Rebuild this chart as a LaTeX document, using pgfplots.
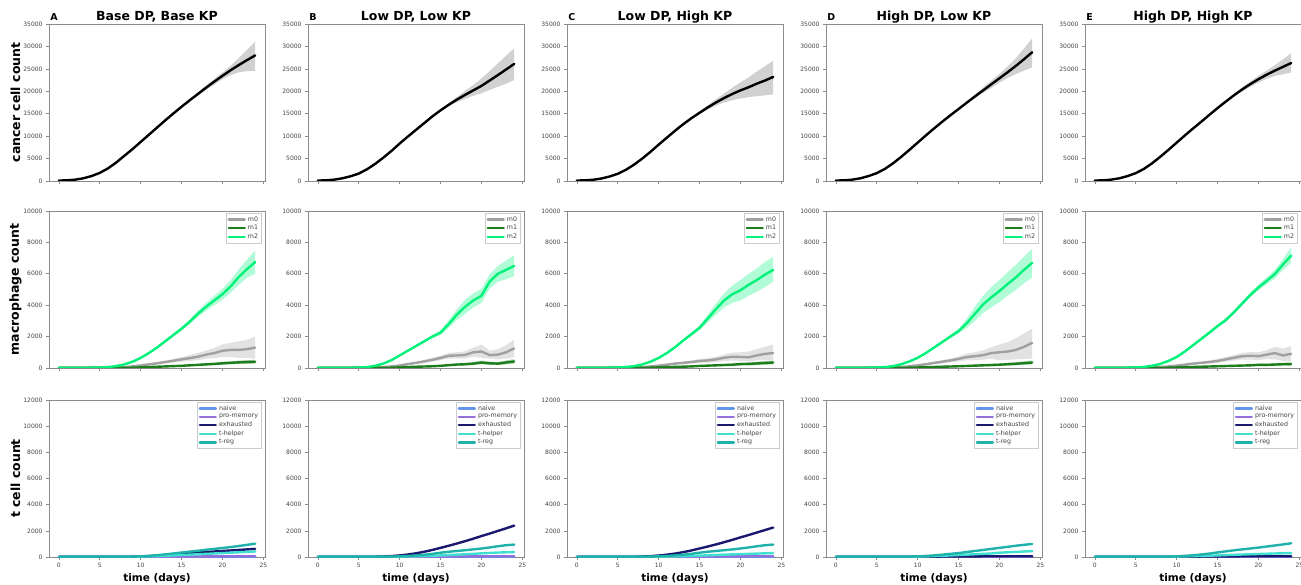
\documentclass[border=0pt]{standalone}
\usepackage{fontspec}
\setmainfont{DejaVu Sans}
\usepackage{pgfplots}
\usepackage{pgfplotstable}
\pgfplotsset{compat=1.18}
\usepgfplotslibrary{fillbetween}

\definecolor{spine}{HTML}{8C8C8C}
\definecolor{ticktext}{HTML}{444444}
\definecolor{m0c}{HTML}{A0A0A0}
\definecolor{m1c}{HTML}{1C7D1C}
\definecolor{m2c}{HTML}{00F27A}
\definecolor{naivec}{HTML}{6495ED}
\definecolor{promc}{HTML}{9370DB}
\definecolor{exhc}{HTML}{191970}
\definecolor{thc}{HTML}{40E0D0}
\definecolor{tregc}{HTML}{20B2AA}

% ---------------- top row: cancer cells ----------------
\pgfplotstableread{
t mean lo hi
0 100 50 150
1 150 100 200
2 300 220 380
3 600 500 700
4 1100 980 1220
5 1800 1650 1950
6 2800 2630 2970
7 4100 3920 4280
8 5600 5410 5790
9 7100 6900 7300
10 8700 8490 8910
11 10300 10080 10520
12 11900 11670 12130
13 13500 13260 13740
14 15050 14800 15300
15 16550 16300 16800
16 18000 17750 18250
17 19400 19050 19750
18 20800 20300 21300
19 22150 21550 22750
20 23450 22700 24200
21 24700 23600 25700
22 25850 24250 27400
23 26950 24500 29200
24 28000 24550 31100
}\topA
\pgfplotstableread{
t mean lo hi
0 100 50 150
1 150 100 200
2 300 220 380
3 600 500 700
4 1050 930 1170
5 1650 1500 1800
6 2600 2430 2770
7 3800 3620 3980
8 5200 5010 5390
9 6700 6500 6900
10 8350 8140 8560
11 9900 9680 10120
12 11400 11170 11630
13 12900 12660 13140
14 14400 14150 14650
15 15750 15480 16020
16 17000 16700 17300
17 18150 17550 18750
18 19200 18300 20100
19 20200 19000 21400
20 21200 19550 22850
21 22400 20300 24500
22 23600 21000 26200
23 24850 21700 27900
24 26100 22500 29600
}\topB
\pgfplotstableread{
t mean lo hi
0 100 50 150
1 150 100 200
2 280 200 360
3 550 450 650
4 1000 880 1120
5 1600 1450 1750
6 2500 2330 2670
7 3650 3470 3830
8 5000 4810 5190
9 6500 6300 6700
10 8100 7890 8310
11 9650 9430 9870
12 11200 10970 11430
13 12650 12410 12890
14 14000 13750 14250
15 15200 14900 15500
16 16400 15900 16900
17 17500 16800 18200
18 18500 17500 19500
19 19400 18000 20800
20 20200 18400 22000
21 20900 18700 23100
22 21700 18900 24400
23 22400 19100 25600
24 23200 19300 26800
}\topC
\pgfplotstableread{
t mean lo hi
0 100 50 150
1 150 100 200
2 300 220 380
3 600 500 700
4 1100 980 1220
5 1750 1600 1900
6 2700 2530 2870
7 3950 3770 4130
8 5400 5210 5590
9 6950 6750 7150
10 8550 8340 8760
11 10150 9930 10370
12 11700 11470 11930
13 13200 12960 13440
14 14650 14400 14900
15 16050 15780 16320
16 17450 17150 17750
17 18850 18450 19250
18 20200 19600 20800
19 21550 20750 22350
20 22900 21900 23900
21 24250 22950 25550
22 25650 23850 27350
23 27150 24600 29550
24 28700 25300 31800
}\topD
\pgfplotstableread{
t mean lo hi
0 100 50 150
1 150 100 200
2 300 220 380
3 600 500 700
4 1100 980 1220
5 1750 1600 1900
6 2700 2530 2870
7 3950 3770 4130
8 5400 5210 5590
9 6950 6750 7150
10 8550 8340 8760
11 10150 9930 10370
12 11700 11470 11930
13 13200 12960 13440
14 14750 14500 15000
15 16250 15980 16520
16 17700 17420 17980
17 19100 18800 19400
18 20400 19950 20850
19 21600 21000 22200
20 22700 21950 23450
21 23700 22800 24600
22 24600 23400 25800
23 25450 23800 27100
24 26300 24200 28500
}\topE

% ---------------- middle row: macrophages (a=m0, b=m1, c=m2) ----------------
\pgfplotstableread{
t a alo ahi b blo bhi c clo chi
0 10 5 15 5 0 10 10 5 15
1 10 5 15 5 0 10 10 5 15
2 10 5 15 5 0 10 10 5 15
3 10 5 15 5 0 10 15 10 20
4 10 5 15 5 0 10 20 15 25
5 10 5 15 5 0 10 30 25 35
6 15 10 20 5 0 10 60 50 70
7 30 20 40 5 0 10 120 105 135
8 60 45 75 10 5 15 230 210 250
9 100 80 120 20 10 30 400 375 425
10 160 120 200 40 25 55 640 600 680
11 230 170 290 60 40 80 950 900 1000
12 300 230 370 80 55 105 1300 1230 1370
13 380 290 470 100 70 130 1700 1620 1780
14 460 350 580 120 85 155 2100 2000 2200
15 550 400 700 140 100 180 2500 2380 2620
16 630 450 820 170 120 220 2950 2800 3100
17 720 500 950 200 140 260 3450 3250 3650
18 850 580 1120 230 160 300 3900 3650 4150
19 950 630 1280 260 180 340 4300 4000 4600
20 1100 700 1500 300 210 390 4700 4350 5050
21 1150 700 1600 330 230 430 5200 4800 5600
22 1150 650 1700 360 250 470 5800 5300 6300
23 1200 650 1800 380 260 500 6300 5750 6900
24 1300 600 2000 400 280 520 6750 6000 7500
}\midA
\pgfplotstableread{
t a alo ahi b blo bhi c clo chi
0 10 5 15 5 0 10 10 5 15
1 10 5 15 5 0 10 10 5 15
2 10 5 15 5 0 10 10 5 15
3 10 5 15 5 0 10 10 5 15
4 10 5 15 5 0 10 15 10 20
5 10 5 15 5 0 10 30 25 35
6 15 10 20 5 0 10 60 50 70
7 30 20 40 5 0 10 140 125 155
8 60 45 75 10 5 15 280 255 305
9 100 80 120 20 10 30 500 470 530
10 160 120 200 40 25 55 800 760 840
11 250 190 310 60 40 80 1100 1050 1150
12 330 250 410 80 55 105 1400 1340 1460
13 420 320 520 95 65 125 1700 1620 1780
14 520 400 640 110 75 145 2000 1900 2100
15 640 500 780 140 95 185 2250 2100 2400
16 780 600 960 180 120 240 2800 2550 3050
17 800 600 1000 220 150 290 3400 3050 3750
18 830 600 1060 240 160 320 3900 3450 4350
19 1000 700 1300 280 190 370 4300 3850 4750
20 1050 650 1500 350 230 470 4600 4150 5050
21 820 600 1100 300 200 400 5500 5050 5950
22 850 550 1200 280 180 380 6000 5500 6500
23 1000 600 1450 350 220 480 6250 5650 6850
24 1250 700 1800 420 270 570 6500 5850 7200
}\midB
\pgfplotstableread{
t a alo ahi b blo bhi c clo chi
0 10 5 15 5 0 10 10 5 15
1 10 5 15 5 0 10 10 5 15
2 10 5 15 5 0 10 10 5 15
3 10 5 15 5 0 10 15 10 20
4 10 5 15 5 0 10 20 15 25
5 10 5 15 5 0 10 30 25 35
6 15 10 20 5 0 10 60 50 70
7 30 20 40 5 0 10 120 105 135
8 60 45 75 10 5 15 230 210 250
9 100 80 120 20 10 30 400 375 425
10 150 115 185 40 25 55 640 600 680
11 210 160 260 55 35 75 950 900 1000
12 280 210 350 70 45 95 1320 1250 1390
13 330 250 410 85 55 115 1750 1660 1840
14 380 280 480 100 65 135 2150 2040 2260
15 450 330 570 130 85 175 2560 2410 2710
16 480 340 620 150 100 200 3150 2900 3400
17 550 380 720 170 110 230 3750 3400 4100
18 650 440 860 190 120 260 4300 3850 4750
19 720 480 980 210 135 285 4700 4150 5250
20 700 450 1000 250 160 340 4950 4300 5600
21 680 420 1050 260 165 355 5300 4600 6000
22 800 480 1200 290 180 400 5600 4850 6350
23 900 500 1350 320 200 440 5950 5150 6750
24 950 500 1500 350 220 480 6250 5500 7100
}\midC
\pgfplotstableread{
t a alo ahi b blo bhi c clo chi
0 10 5 15 5 0 10 10 5 15
1 10 5 15 5 0 10 10 5 15
2 10 5 15 5 0 10 10 5 15
3 10 5 15 5 0 10 15 10 20
4 10 5 15 5 0 10 20 15 25
5 10 5 15 5 0 10 30 25 35
6 15 10 20 5 0 10 60 50 70
7 30 20 40 5 0 10 120 105 135
8 60 45 75 10 5 15 240 220 260
9 110 85 135 20 10 30 420 395 445
10 170 130 210 35 20 50 650 610 690
11 240 180 300 50 30 70 950 900 1000
12 320 240 400 65 40 90 1300 1230 1370
13 400 300 500 80 50 110 1650 1570 1730
14 480 360 600 95 60 130 2000 1900 2100
15 580 420 740 110 70 150 2350 2200 2500
16 700 480 920 130 85 175 2850 2550 3150
17 750 500 1000 150 95 205 3450 3000 3900
18 820 530 1130 170 110 230 4050 3500 4600
19 950 580 1320 190 120 260 4500 3850 5150
20 1000 500 1500 210 135 285 4900 4200 5600
21 1050 520 1650 240 150 330 5350 4600 6100
22 1150 550 1900 270 170 370 5770 4970 6570
23 1350 580 2200 310 195 425 6250 5400 7100
24 1600 600 2500 350 220 480 6700 5750 7600
}\midD
\pgfplotstableread{
t a alo ahi b blo bhi c clo chi
0 10 5 15 5 0 10 10 5 15
1 10 5 15 5 0 10 10 5 15
2 10 5 15 5 0 10 10 5 15
3 10 5 15 5 0 10 15 10 20
4 10 5 15 5 0 10 20 15 25
5 10 5 15 5 0 10 35 30 40
6 15 10 20 5 0 10 70 60 80
7 30 20 40 5 0 10 140 125 155
8 60 45 75 10 5 15 260 240 280
9 100 80 120 20 10 30 450 425 475
10 150 115 185 35 20 50 700 660 740
11 210 160 260 50 30 70 1050 1000 1100
12 280 210 350 65 40 90 1450 1380 1520
13 330 250 410 80 50 110 1850 1770 1930
14 380 280 480 95 60 130 2250 2150 2350
15 450 330 570 110 70 150 2670 2560 2780
16 550 400 700 125 80 170 3050 2940 3160
17 650 470 830 140 90 190 3550 3430 3670
18 750 540 960 155 100 210 4100 3970 4230
19 780 540 1020 170 110 230 4650 4500 4800
20 750 500 1000 200 130 270 5130 4950 5310
21 850 560 1140 200 125 275 5550 5330 5770
22 950 550 1350 220 140 300 5980 5700 6260
23 800 450 1250 240 150 330 6600 6250 6950
24 900 400 1400 250 150 350 7160 6700 7700
}\midE

% ---------------- bottom row: T cells ----------------
\pgfplotstableread{
t n p e h r
0 5 5 5 5 5
2 5 5 5 5 5
4 5 5 5 5 5
6 5 5 5 5 5
8 10 5 15 10 10
9 10 5 25 15 20
10 10 10 40 30 50
11 15 10 60 45 90
12 15 15 100 65 140
13 15 20 150 90 200
14 20 25 200 120 270
15 20 30 250 150 340
16 20 35 300 180 410
17 20 40 340 210 480
18 20 45 380 240 550
19 25 50 420 270 620
20 25 50 460 300 690
21 25 55 500 330 760
22 25 55 540 360 840
23 25 60 580 390 930
24 25 60 620 420 1020
}\botA
\pgfplotstableread{
t n p e h r
0 5 5 5 5 5
2 5 5 5 5 5
4 5 5 5 5 5
6 5 5 10 5 5
7 5 5 20 5 5
8 5 5 35 10 10
9 10 5 70 15 25
10 10 10 120 25 50
11 10 10 190 40 80
12 15 15 280 55 120
13 15 20 400 75 170
14 15 25 540 95 240
15 20 30 700 120 330
16 20 35 860 150 400
17 20 40 1030 180 460
18 20 45 1210 210 520
19 25 50 1400 240 580
20 25 50 1600 280 650
21 25 55 1790 310 730
22 25 55 1990 340 820
23 25 60 2190 360 900
24 25 60 2400 380 950
}\botB
\pgfplotstableread{
t n p e h r
0 5 5 5 5 5
2 5 5 5 5 5
4 5 5 5 5 5
6 5 5 10 5 5
7 5 5 20 5 5
8 5 5 35 10 10
9 10 5 65 15 25
10 10 10 110 25 50
11 10 10 180 35 80
12 15 15 260 50 120
13 15 20 370 65 170
14 15 25 500 85 240
15 20 30 650 105 330
16 20 35 800 130 400
17 20 40 960 155 460
18 20 45 1130 180 520
19 25 50 1310 200 580
20 25 50 1500 220 650
21 25 55 1680 240 730
22 25 55 1870 260 820
23 25 60 2060 280 900
24 25 60 2250 300 950
}\botC
\pgfplotstableread{
t n p e h r
0 5 5 5 5 5
2 5 5 5 5 5
4 5 5 5 5 5
6 5 5 5 5 5
8 10 5 10 10 10
9 10 5 15 15 20
10 10 10 20 30 45
11 15 10 25 45 80
12 15 15 30 65 125
13 15 15 35 90 180
14 20 20 40 120 240
15 20 20 45 150 300
16 20 25 50 180 380
17 20 25 50 210 460
18 20 30 55 240 540
19 25 30 55 270 620
20 25 30 60 330 700
21 25 35 60 360 780
22 25 35 60 390 860
23 25 35 60 420 930
24 25 40 60 450 1000
}\botD
\pgfplotstableread{
t n p e h r
0 5 5 5 5 5
2 5 5 5 5 5
4 5 5 5 5 5
6 5 5 5 5 5
8 10 5 10 10 10
9 10 5 15 15 20
10 10 10 20 30 50
11 15 10 25 45 85
12 15 15 30 60 130
13 15 15 35 80 190
14 20 20 40 100 260
15 20 20 45 120 350
16 20 25 50 145 430
17 20 25 50 170 510
18 20 30 55 190 580
19 25 30 55 210 650
20 25 30 60 230 720
21 25 35 60 250 800
22 25 35 60 270 880
23 25 35 60 285 960
24 25 40 60 300 1050
}\botE

\pgfplotsset{
  panel/.style={scale only axis, width=216pt, height=157pt,
    xmin=-1.2, xmax=25.2, xtick={0,5,10,15,20,25},
    tick pos=left, tick align=outside, major tick length=3pt,
    axis line style={spine, line width=0.8pt},
    tick style={spine, line width=0.6pt},
    ticklabel style={font=\fontsize{6}{7}\selectfont, text=ticktext},
    /pgf/number format/assume math mode=true,
    /pgf/number format/1000 sep={},
    scaled y ticks=false, clip mode=individual,
    every axis plot/.append style={line join=round, line cap=round},
    legend style={at={(0.985,0.985)}, anchor=north east,
      font=\fontsize{6.3}{7}\selectfont, text=ticktext,
      draw=black!20, fill=white, inner xsep=1.5pt, inner ysep=1pt,
      row sep=-1.5pt},
    legend cell align=left,
    legend image code/.code={\draw[##1] (0pt,0pt) -- (16pt,0pt);},
    every axis title shift=0pt,
    title style={font=\fontsize{12.5}{14}\selectfont\bfseries, at={(0.5,1)}, anchor=base, yshift=3.5pt},
  },
  toprow/.style={panel, ymin=0, ymax=35000, ytick={0,5000,...,35000}, xticklabels={}},
  midrow/.style={panel, ymin=0, ymax=10000, ytick={0,2000,...,10000}, xticklabels={}},
  botrow/.style={panel, ymin=0, ymax=12000, ytick={0,2000,...,12000},
    xlabel={time (days)}, xlabel style={font=\fontsize{10.5}{12}\selectfont\bfseries, yshift=1pt}},
  ylab/.style={ylabel style={at={(axis description cs:-0.155,0.5)}, anchor=center, font=\fontsize{12.5}{14}\selectfont\bfseries}},
}

\newcommand{\band}[5]{%
  \addplot[name path=hi#5, draw=none, forget plot] table[x=t,y=#3]{#1};
  \addplot[name path=lo#5, draw=none, forget plot] table[x=t,y=#2]{#1};
  \addplot[#4, draw=none, forget plot] fill between[of=hi#5 and lo#5];
}

\newcommand{\toppanel}[5]{% x, table, title, letter, extra
\begin{axis}[toprow, at={(#1pt,403pt)}, anchor=south west, title={#3}, #5]
  \band{#2}{lo}{hi}{fill=black!18}{t}
  \addplot[black, line width=2.4pt] table[x=t,y=mean]{#2};
  \node[font=\fontsize{9.5}{11}\selectfont\bfseries, anchor=base west, inner sep=0pt] at (rel axis cs:0.005,1) [yshift=3.5pt] {#4};
\end{axis}}

\newcommand{\midpanel}[3]{% x, table, extra
\begin{axis}[midrow, at={(#1pt,216pt)}, anchor=south west, #3]
  \band{#2}{alo}{ahi}{fill=m0c, fill opacity=0.3}{a}
  \band{#2}{blo}{bhi}{fill=m1c, fill opacity=0.3}{b}
  \band{#2}{clo}{chi}{fill=m2c, fill opacity=0.3}{c}
  \addplot[m0c, line width=2.4pt] table[x=t,y=a]{#2};
  \addplot[m1c, line width=2.4pt] table[x=t,y=b]{#2};
  \addplot[m2c, line width=2.4pt] table[x=t,y=c]{#2};
  \legend{m0,m1,m2}
\end{axis}}

\newcommand{\botpanel}[3]{% x, table, extra
\begin{axis}[botrow, at={(#1pt,27pt)}, anchor=south west, #3]
  \addplot[naivec, line width=2.4pt] table[x=t,y=n]{#2};
  \addplot[promc, line width=2.4pt] table[x=t,y=p]{#2};
  \addplot[exhc, line width=2.4pt] table[x=t,y=e]{#2};
  \addplot[thc, line width=2.4pt] table[x=t,y=h]{#2};
  \addplot[tregc, line width=2.4pt] table[x=t,y=r]{#2};
  \legend{naive,pro-memory,exhausted,t-helper,t-reg}
\end{axis}}

\begin{document}
\begin{tikzpicture}
\toppanel{49}{\topA}{Base DP, Base KP}{A}{ylab, ylabel={cancer cell count}}
\toppanel{308}{\topB}{Low DP, Low KP}{B}{}
\toppanel{567}{\topC}{Low DP, High KP}{C}{}
\toppanel{826}{\topD}{High DP, Low KP}{D}{}
\toppanel{1085}{\topE}{High DP, High KP}{E}{}

\midpanel{49}{\midA}{ylab, ylabel={macrophage count}}
\midpanel{308}{\midB}{}
\midpanel{567}{\midC}{}
\midpanel{826}{\midD}{}
\midpanel{1085}{\midE}{}

\botpanel{49}{\botA}{ylab, ylabel={t cell count}}
\botpanel{308}{\botB}{}
\botpanel{567}{\botC}{}
\botpanel{826}{\botD}{}
\botpanel{1085}{\botE}{}
\pgfresetboundingbox
\useasboundingbox (0,0) rectangle (1301pt,584pt);
\end{tikzpicture}
\end{document}
